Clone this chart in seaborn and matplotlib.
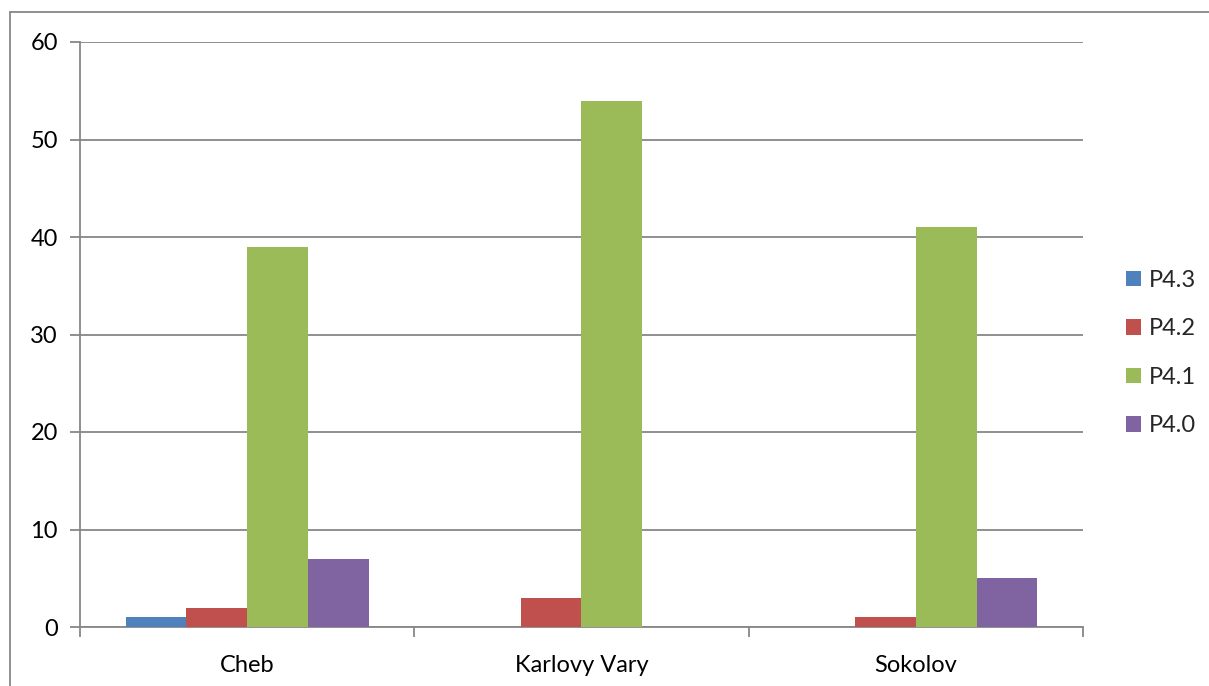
import matplotlib
matplotlib.use("Agg")
import matplotlib.pyplot as plt
import seaborn as sns
import pandas as pd
from matplotlib.patches import Rectangle
from matplotlib.lines import Line2D

# Data
districts = ["Cheb", "Karlovy Vary", "Sokolov"]
series = ["P4.3", "P4.2", "P4.1", "P4.0"]
p43 = [1, 0, 0]
p42 = [2, 3, 1]
p41 = [39, 54, 41]
p40 = [7, 0, 5]
y_ticks = [0, 10, 20, 30, 40, 50, 60]

colors = ["#4F81BD", "#C0504D", "#9BBB59", "#8064A2"]
grid_color = "#878787"

rows = []
for name, vals in zip(series, [p43, p42, p41, p40]):
    for d, v in zip(districts, vals):
        rows.append({"district": d, "series": name, "value": v})
df = pd.DataFrame(rows)

sns.set_theme(style="white")
plt.rcParams["font.family"] = ["Lato", "DejaVu Sans"]
FS = 17

W, H = 1209, 686
fig = plt.figure(figsize=(W / 100, H / 100), dpi=100)
ax = fig.add_axes([80 / W, 1 - 627 / H, (1083 - 80) / W, (627 - 42) / H])

sns.barplot(data=df, x="district", y="value", hue="series", order=districts,
            hue_order=series, palette=colors, width=4 / 5.5, gap=0,
            saturation=1, linewidth=0, ax=ax, legend=False, zorder=3)

ax.set_xlim(-0.5, 2.5)
ax.set_ylim(0, 60)
ax.set_yticks(y_ticks)
ax.set_yticklabels([str(t) for t in y_ticks], fontsize=FS, color="#000000")
ax.yaxis.grid(True, color=grid_color, linewidth=1.3, zorder=0)
ax.set_axisbelow(True)
ax.tick_params(axis="y", length=7, width=1.3, color=grid_color, pad=9, left=True)

ax.set_xticks(range(len(districts)))
ax.set_xticklabels(districts, fontsize=FS, color="#000000")
ax.set_xticks([-0.5, 0.5, 1.5, 2.5], minor=True)
ax.tick_params(axis="x", which="major", length=0, pad=20)
ax.tick_params(axis="x", which="minor", length=7, width=1.3, color=grid_color, bottom=True)

ax.set_xlabel("")
ax.set_ylabel("")
for side in ["top", "right"]:
    ax.spines[side].set_visible(False)
for side in ["left", "bottom"]:
    ax.spines[side].set_color(grid_color)
    ax.spines[side].set_linewidth(1.3)

# Legend
handles = [Rectangle((0, 0), 1, 1, facecolor=c, edgecolor="none") for c in colors]
fig.legend(handles, series, loc="center left", bbox_to_anchor=(1105 / W, 1 - 353 / H),
           frameon=False, fontsize=FS, handlelength=0.62, handleheight=0.62,
           handletextpad=0.35, labelspacing=1.17)

# Outer chart border
fig.add_artist(Line2D([10 / W, 10 / W], [0, 1 - 12 / H], transform=fig.transFigure,
                      color=grid_color, linewidth=1.3))
fig.add_artist(Line2D([10 / W, 1], [1 - 12 / H, 1 - 12 / H], transform=fig.transFigure,
                      color=grid_color, linewidth=1.3))

fig.savefig("out.png", dpi=100, facecolor="white")
